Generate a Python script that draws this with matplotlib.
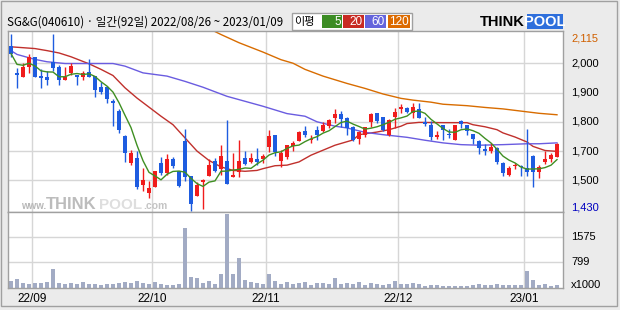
import matplotlib
matplotlib.use('Agg')
import matplotlib.pyplot as plt
from matplotlib.patches import Rectangle
import numpy as np
import pandas as pd

plt.rcParams['font.family'] = ['Liberation Sans', 'Noto Sans CJK KR', 'DejaVu Sans']

# 일봉 데이터 (92일) - 그림에서 읽은 값
opens = [2058, 1967, 1953, 1986, 2021, 1957, 1953, 2005, 1987, 1941, 1965, 1960, 1953, 1970, 1956, 1918,
         1919, 1870, 1837, 1751, 1660, 1676, 1585, 1558, 1578, 1659, 1625, 1673, 1633, 1733, 1615, 1546,
         1596, 1615, 1665, 1640, 1665, 1612, 1630, 1676, 1663, 1673, 1674, 1713, 1754, 1665, 1679, 1716,
         1736, 1767, 1738, 1772, 1767, 1786, 1813, 1827, 1813, 1782, 1740, 1754, 1799, 1830, 1816, 1754,
         1816, 1845, 1847, 1830, 1844, 1800, 1788, 1749, 1788, 1758, 1739, 1803, 1788, 1758, 1734, 1708,
         1699, 1711, 1659, 1619, 1650, 1649, 1642, 1683, 1628, 1663, 1674, 1681]
highs = [2100, 1984, 2001, 2030, 2021, 1981, 1973, 2100, 1993, 1986, 2001, 1960, 1975, 2015, 1956, 1935,
         1921, 1877, 1842, 1756, 1704, 1699, 1642, 1599, 1633, 1679, 1690, 1681, 1633, 1777, 1615, 1596,
         1604, 1674, 1676, 1722, 1807, 1693, 1738, 1699, 1692, 1710, 1690, 1772, 1756, 1705, 1720, 1736,
         1767, 1786, 1754, 1786, 1798, 1808, 1845, 1836, 1815, 1784, 1767, 1783, 1830, 1830, 1818, 1808,
         1847, 1861, 1851, 1863, 1863, 1815, 1802, 1767, 1790, 1775, 1790, 1805, 1790, 1760, 1738, 1725,
         1726, 1713, 1663, 1649, 1659, 1653, 1775, 1685, 1653, 1701, 1692, 1726]
lows = [2020, 1916, 1953, 1967, 1953, 1916, 1924, 1973, 1925, 1941, 1961, 1927, 1941, 1954, 1886, 1895,
        1863, 1786, 1763, 1663, 1651, 1571, 1565, 1539, 1578, 1619, 1619, 1642, 1578, 1599, 1496, 1546,
        1503, 1615, 1628, 1619, 1588, 1612, 1612, 1651, 1658, 1651, 1659, 1697, 1683, 1644, 1674, 1701,
        1733, 1749, 1728, 1739, 1765, 1779, 1795, 1783, 1756, 1736, 1724, 1749, 1782, 1796, 1767, 1750,
        1779, 1829, 1829, 1814, 1814, 1785, 1738, 1742, 1739, 1745, 1738, 1779, 1756, 1724, 1690, 1688,
        1693, 1656, 1615, 1615, 1640, 1615, 1615, 1578, 1609, 1656, 1663, 1681]
closes = [2033, 1959, 1987, 2021, 1953, 1950, 1941, 1984, 1941, 1953, 1992, 1954, 1967, 1954, 1907, 1902,
          1879, 1865, 1773, 1692, 1692, 1578, 1601, 1574, 1631, 1625, 1673, 1650, 1580, 1612, 1519, 1584,
          1602, 1653, 1633, 1683, 1588, 1619, 1665, 1657, 1676, 1663, 1684, 1752, 1697, 1692, 1720, 1728,
          1765, 1756, 1741, 1756, 1788, 1806, 1827, 1811, 1779, 1738, 1765, 1782, 1827, 1803, 1773, 1806,
          1834, 1851, 1834, 1851, 1814, 1794, 1749, 1756, 1772, 1755, 1788, 1793, 1770, 1742, 1710, 1701,
          1715, 1663, 1625, 1642, 1653, 1644, 1628, 1628, 1644, 1674, 1685, 1724]
volumes = [207, 290, 155, 135, 155, 155, 186, 601, 145, 135, 155, 124, 186, 135, 135, 104,
           135, 135, 166, 186, 155, 218, 155, 135, 186, 124, 104, 104, 124, 1865, 342, 311,
           155, 207, 124, 435, 2300, 435, 932, 249, 186, 145, 124, 435, 207, 124, 186, 124,
           155, 186, 93, 155, 155, 124, 311, 124, 155, 124, 186, 83, 155, 124, 93, 135,
           218, 135, 135, 155, 124, 62, 93, 93, 62, 62, 62, 62, 62, 93, 124, 93,
           93, 124, 93, 93, 93, 93, 528, 249, 93, 124, 62, 93]

# 이동평균선
ma20_idx = [0, 4, 6, 8, 10, 13, 15, 17, 19, 21, 23, 25, 27, 29, 31, 33, 35, 37, 39, 41, 42, 44, 46,
            48, 50, 52, 54, 57, 58, 61, 63, 65, 66, 68, 72, 76, 77, 79, 81, 82, 84, 86, 87, 89, 91]
ma20 = [2056, 2050, 2043, 2035, 2022, 1998, 1979, 1958, 1916, 1881, 1850, 1819, 1790, 1745, 1700, 1668,
        1646, 1634, 1631, 1634, 1640, 1650, 1652, 1663, 1686, 1703, 1720, 1738, 1756, 1765, 1773, 1785,
        1794, 1798, 1797, 1797, 1790, 1783, 1773, 1762, 1748, 1731, 1716, 1702, 1699]
ma60_idx = [0, 1, 4, 6, 9, 17, 19, 22, 26, 29, 32, 36, 39, 42, 46, 49, 51, 54, 56, 59, 62, 66, 69,
            72, 75, 78, 82, 86, 88, 91]
ma60 = [2043, 2030, 2013, 2005, 1999, 1999, 1990, 1967, 1956, 1938, 1918, 1887, 1870, 1853, 1828, 1819,
        1800, 1785, 1779, 1764, 1756, 1747, 1737, 1728, 1722, 1720, 1722, 1725, 1725, 1728]
ma120_idx = [33, 35, 38, 42, 45, 47, 49, 52, 56, 59, 62, 65, 67, 70, 72, 76, 79, 82, 86, 88, 91]
ma120 = [2118, 2098, 2070, 2038, 2012, 2000, 1979, 1956, 1931, 1914, 1895, 1880, 1874, 1867, 1860,
         1855, 1849, 1844, 1834, 1829, 1824]

month_idx = [4, 24, 43, 65, 86]
month_labels = ['22/09', '22/10', '22/11', '22/12', '23/01']
price_grid = [2000, 1900, 1800, 1700, 1600]
price_labels = ['2,000', '1,900', '1,800', '1,700', '1,500']
vol_grid = [1575, 799]
vol_labels = ['1575', '799']

RED = '#f01c1c'
BLUE = '#1e5ce0'
GRID = '#d6d6d6'
EDGE = '#a0a0a0'

W, H = 620, 310
def fx(x):
    return x / W
def fy(y):
    return 1 - y / H

fig = plt.figure(figsize=(6.2, 3.1), dpi=100, facecolor='#ebebeb')
fig.patches.append(Rectangle((fx(1), fy(306)), fx(616), 305 / H, transform=fig.transFigure,
                             fill=False, ec=EDGE, lw=1))

ax = fig.add_axes([fx(8), fy(212), fx(555), 181 / H])
axv = fig.add_axes([fx(8), fy(288), fx(555), 76 / H])

n = len(closes)
x = np.arange(n)
o = np.array(opens); c = np.array(closes); hi = np.array(highs); lo = np.array(lows)
up = c >= o
col = np.where(up, RED, BLUE)

for g in price_grid:
    ax.axhline(g, color=GRID, lw=1, zorder=0)
for m in month_idx:
    ax.axvline(m - 0.5, color=GRID, lw=1, zorder=0)
    axv.axvline(m - 0.5, color=GRID, lw=1, zorder=0)
for g in vol_grid:
    axv.axhline(g, color=GRID, lw=1, zorder=0)

# 워터마크
fig.text(fx(21), fy(209), 'www.', fontsize=7, color='#b8b8b8', fontweight='bold', va='baseline')
fig.text(fx(46), fy(209), 'THINK', fontsize=12, color='#bcbcbc', fontweight='bold', va='baseline')
fig.text(fx(99), fy(209), 'POOL', fontsize=11, color='#dedede', fontweight='bold', va='baseline')
fig.text(fx(143), fy(209), '.com', fontsize=7.5, color='#c4c4c4', fontweight='bold', va='baseline')

# 캔들
ax.vlines(x, lo, hi, colors=col, lw=1, zorder=3)
body = np.maximum(np.abs(c - o), 3.5)
ax.bar(x, body, bottom=np.minimum(o, c), width=0.72, color=col, lw=0, zorder=4)

# 이동평균
ma5 = pd.Series(closes).rolling(5, min_periods=1).mean()
ax.plot(x, ma5, color='#3f8f22', lw=1, zorder=5)
ax.plot(ma20_idx, ma20, color='#c0302c', lw=1, zorder=2)
ax.plot(ma60_idx, ma60, color='#6a5ce0', lw=1, zorder=2)
ax.plot(ma120_idx, ma120, color='#d86c00', lw=1, zorder=2)

ax.set_xlim(-0.5, 92)
ax.set_ylim(1492, 2110)
ax.set_xticks([]); ax.set_yticks([])

axv.bar(x, volumes, width=0.8, color='#a2abc4', lw=0, zorder=2)
axv.set_xlim(-0.5, 92)
axv.set_ylim(0, 2360)
axv.set_xticks([]); axv.set_yticks([])

for a in (ax, axv):
    a.set_facecolor('white')
    for s in a.spines.values():
        s.set_color(EDGE)
        s.set_linewidth(1)

# 오른쪽 가격 라벨
ytr = ax.get_yaxis_transform()
for g, lab in zip(price_grid, price_labels):
    ax.text(1.015, g, lab, transform=ytr, fontsize=8, va='center', ha='left')
ax.text(1.015, 2086, '2,115', transform=ytr, fontsize=8, va='center', ha='left', color='#d06000')
ax.text(1.015, 1509, '1,430', transform=ytr, fontsize=8, va='center', ha='left', color='#0000c0')
vtr = axv.get_yaxis_transform()
for g, lab in zip(vol_grid, vol_labels):
    axv.text(1.015, g, lab, transform=vtr, fontsize=8, va='center', ha='left')
axv.text(1.015, 80, 'x1000', transform=vtr, fontsize=8, va='center', ha='left')

# 날짜 라벨
for m, lab in zip(month_idx, month_labels):
    axv.text(m - 0.5, -0.14, lab, transform=axv.get_xaxis_transform(), fontsize=8.5,
             ha='center', va='center')

# 제목
fig.text(fx(7), fy(22), 'SG&G(040610) · 일간(92일) 2022/08/26 ~ 2023/01/09', fontsize=8.3,
         va='center', ha='left', family=['Noto Sans CJK KR', 'DejaVu Sans'])

# 이평 범례
fig.patches.append(Rectangle((fx(292), fy(30)), fx(120), 17 / H, transform=fig.transFigure,
                             fc='white', ec=EDGE, lw=1))
fig.text(fx(294), fy(22), '이평', fontsize=8, va='center', ha='left',
         family=['Noto Sans CJK KR', 'DejaVu Sans'])
leg_cells = [(322, 342, '#3c8c24', '5'), (343, 364, '#c82a22', '20'),
             (365, 386, '#6464dc', '60'), (388, 410, '#dc6a00', '120')]
for x0, x1, cc, t in leg_cells:
    fig.patches.append(Rectangle((fx(x0), fy(28)), fx(x1 - x0), 13 / H, transform=fig.transFigure,
                                 fc=cc, ec='none'))
    fig.text(fx(x1 - 1), fy(22), t, fontsize=8.5, color='white', va='center', ha='right')

# THINKPOOL 로고
fig.patches.append(Rectangle((fx(527), fy(29)), fx(36), 15 / H, transform=fig.transFigure,
                             fc='#2e6fdc', ec='none'))
fig.text(fx(480), fy(21.5), 'THINK', fontsize=10.5, fontweight='bold', color='black',
         va='center', ha='left')
fig.text(fx(545), fy(21.5), 'POOL', fontsize=10.5, fontweight='bold', color='white',
         va='center', ha='center')

plt.savefig('out.png', dpi=100, facecolor=fig.get_facecolor())
